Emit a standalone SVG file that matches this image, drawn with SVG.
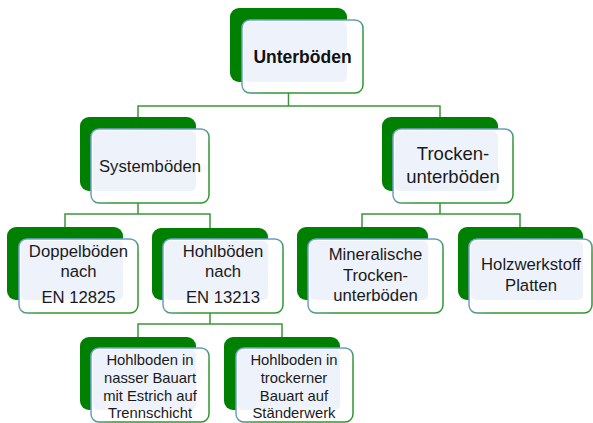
<svg xmlns="http://www.w3.org/2000/svg" width="593" height="423" viewBox="0 0 593 423">
<defs>
<linearGradient id="bd" x1="0" y1="0" x2="1" y2="1">
<stop offset="0" stop-color="#7aa3d8"/>
<stop offset="0.45" stop-color="#6a9fc8"/>
<stop offset="0.6" stop-color="#2f962f"/>
<stop offset="1" stop-color="#2f962f"/>
</linearGradient>
<style>
.bk{fill:#008000}
.fr{fill:#ffffff;stroke:url(#bd);stroke-width:1.5}
.in{fill:#eef2fa}
.t{font-family:"Liberation Sans",Arial,sans-serif;font-size:16.7px;fill:#1a1a1a;text-anchor:middle}
.s{font-size:14.8px}
.l{font-size:18.5px}
.b{font-weight:bold;font-size:17.5px;fill:#111}
.cn{fill:none;stroke:#3a963a;stroke-width:1.5}
</style>
</defs>
<g id="connectors">
<path class="cn" d="M288.5 93V106M138 117V106H440V117"/>
<path class="cn" d="M138 203V214M65 227V214H210V228"/>
<path class="cn" d="M440 203V214M362 227V214H520V227"/>
<path class="cn" d="M210 313V324M138 337V324H282V337"/>
</g>
<g id="unterboeden">
<rect class="bk" x="230" y="8" width="117" height="74" rx="9"/>
<rect class="fr" x="242" y="20" width="121" height="73" rx="8"/>
<rect class="in" x="244" y="22" width="103" height="60" rx="5"/>
<text class="t b" x="302.5" y="63">Unterböden</text>
</g>
<g id="systemboeden">
<rect class="bk" x="80" y="117" width="116" height="74" rx="9"/>
<rect class="fr" x="91" y="129" width="118" height="74" rx="8"/>
<rect class="in" x="93" y="131" width="103" height="60" rx="5"/>
<text class="t" x="150" y="172">Systemböden</text>
</g>
<g id="trockenunterboeden">
<rect class="bk" x="382" y="117" width="116" height="74" rx="9"/>
<rect class="fr" x="393" y="129" width="120" height="74" rx="8"/>
<rect class="in" x="395" y="131" width="103" height="60" rx="5"/>
<text class="t l" x="453" y="160">Trocken-</text>
<text class="t l" x="453" y="183">unterböden</text>
</g>
<g id="doppelboeden">
<rect class="bk" x="7" y="227" width="116" height="73" rx="9"/>
<rect class="fr" x="19" y="239" width="119" height="74" rx="8"/>
<rect class="in" x="21" y="241" width="102" height="59" rx="5"/>
<text class="t" x="78.5" y="257">Doppelböden</text>
<text class="t" x="78.5" y="277">nach</text>
<text class="t" x="78.5" y="303">EN 12825</text>
</g>
<g id="hohlboeden">
<rect class="bk" x="152" y="228" width="116" height="72" rx="9"/>
<rect class="fr" x="163" y="239" width="120" height="74" rx="8"/>
<rect class="in" x="165" y="241" width="103" height="59" rx="5"/>
<text class="t" x="223" y="257">Hohlböden</text>
<text class="t" x="223" y="277">nach</text>
<text class="t" x="223" y="303">EN 13213</text>
</g>
<g id="mineralische">
<rect class="bk" x="297" y="227" width="131" height="73" rx="9"/>
<rect class="fr" x="308" y="239" width="135" height="74" rx="8"/>
<rect class="in" x="310" y="241" width="118" height="59" rx="5"/>
<text class="t" x="375.5" y="260">Mineralische</text>
<text class="t" x="375.5" y="281">Trocken-</text>
<text class="t" x="375.5" y="301">unterböden</text>
</g>
<g id="holzwerkstoff">
<rect class="bk" x="458" y="227" width="125" height="73" rx="9"/>
<rect class="fr" x="469" y="239" width="123" height="74" rx="8"/>
<rect class="in" x="471" y="241" width="112" height="59" rx="5"/>
<text class="t" x="531" y="270">Holzwerkstoff</text>
<text class="t" x="531" y="291">Platten</text>
</g>
<g id="nass">
<rect class="bk" x="80" y="337" width="116" height="73" rx="9"/>
<rect class="fr" x="91" y="348" width="118" height="74" rx="8"/>
<rect class="in" x="93" y="350" width="103" height="60" rx="5"/>
<text class="t s" x="150" y="365">Hohlboden in</text>
<text class="t s" x="150" y="383">nasser Bauart</text>
<text class="t s" x="150" y="401">mit Estrich auf</text>
<text class="t s" x="150" y="418">Trennschicht</text>
</g>
<g id="trocken">
<rect class="bk" x="224" y="337" width="116" height="73" rx="9"/>
<rect class="fr" x="236" y="348" width="117" height="74" rx="8"/>
<rect class="in" x="238" y="350" width="102" height="60" rx="5"/>
<text class="t s" x="294" y="365">Hohlboden in</text>
<text class="t s" x="294" y="383">trockerner</text>
<text class="t s" x="294" y="401">Bauart auf</text>
<text class="t s" x="294" y="418">Ständerwerk</text>
</g>
</svg>
